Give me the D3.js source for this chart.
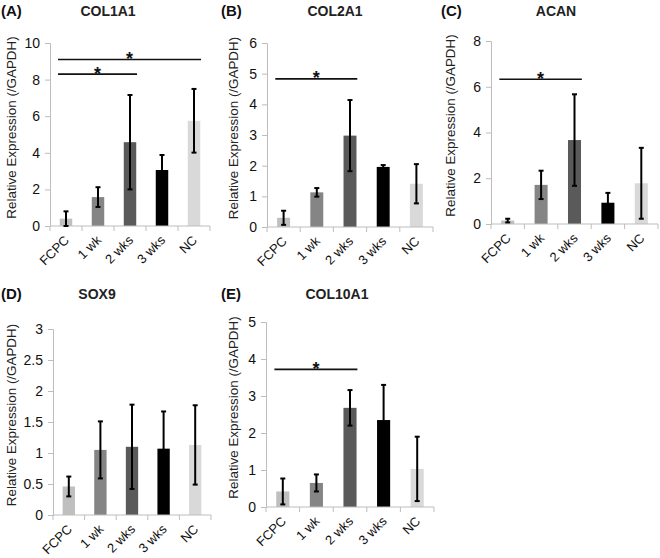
<!DOCTYPE html>
<html><head><meta charset="utf-8">
<script src="https://cdnjs.cloudflare.com/ajax/libs/d3/7.8.5/d3.min.js"></script>
<style>body{margin:0;background:#fff;} svg{display:block;font-family:"Liberation Sans",Arial,sans-serif;}</style>
</head><body><svg id="c" width="660" height="558"></svg>
<script>
const categories = ["FCPC", "1 wk", "2 wks", "3 wks", "NC"];
const barColors = ["#bfbfbf", "#858585", "#5a5a5a", "#000000", "#d9d9d9"];

const col1a1Mean = [0.40, 1.58, 4.58, 3.06, 5.75];
const col1a1Err  = [0.40, 0.54, 2.58, 0.82, 1.74];
const col1a1Ticks = [0, 2, 4, 6, 8, 10];
const col1a1Sig = [{from: 0, to: 4, y: 9.1}, {from: 0, to: 2, y: 8.3}];

const col2a1Mean = [0.30, 1.13, 2.98, 1.96, 1.41];
const col2a1Err  = [0.23, 0.14, 1.16, 0.06, 0.64];
const col2a1Ticks = [0, 1, 2, 3, 4, 5, 6];
const col2a1Sig = [{from: 0, to: 2, y: 4.83}];

const acanMean = [0.15, 1.71, 3.67, 0.93, 1.78];
const acanErr  = [0.08, 0.62, 2.00, 0.43, 1.55];
const acanTicks = [0, 2, 4, 6, 8];
const acanSig = [{from: 0, to: 2, y: 6.33}];

const sox9Mean = [0.46, 1.05, 1.10, 1.07, 1.13];
const sox9Err  = [0.16, 0.46, 0.68, 0.60, 0.64];
const sox9Ticks = [0, 0.5, 1, 1.5, 2, 2.5, 3];
const sox9Sig = [];

const col10a1Mean = [0.42, 0.65, 2.68, 2.35, 1.03];
const col10a1Err  = [0.35, 0.23, 0.48, 0.95, 0.87];
const col10a1Ticks = [0, 1, 2, 3, 4, 5];
const col10a1Sig = [{from: 0, to: 2, y: 3.72}];

const svg = d3.select("#c");

function panel(o) {
  const g = svg.append("g");
  const x = d3.scaleBand().domain(categories).range([o.left, o.right]).paddingInner(0.61).paddingOuter(0.305);
  const xb = d3.scaleBand().domain(categories).range([o.left, o.right]);
  const yMax = o.ticks[o.ticks.length - 1];
  const y = d3.scaleLinear().domain([0, yMax]).range([o.bottom, o.top]);

  // panel letter + title
  g.append("text").attr("x", o.lx).attr("y", o.ty).attr("font-size", 15).attr("font-weight", "bold").attr("fill", "#111").text(o.letter);
  g.append("text").attr("x", o.tx).attr("y", o.ty).attr("text-anchor", "middle").attr("font-size", 14).attr("font-weight", "bold").attr("fill", "#222").text(o.title);

  // y axis
  const ya = g.append("g").attr("transform", `translate(${o.left},0)`)
    .call(d3.axisLeft(y).tickValues(o.ticks).tickFormat(d => String(d)).tickSizeOuter(0).tickSize(5).tickPadding(5));
  ya.select(".domain").attr("stroke", "#bdbdbd").attr("stroke-width", 1);
  ya.selectAll(".tick line").attr("stroke", "#bdbdbd");
  ya.selectAll(".tick text").attr("font-size", 14).attr("fill", "#111").attr("font-family", "Liberation Sans, Arial, sans-serif");

  // y title
  g.append("text").attr("transform", `translate(${o.yx},${(o.top + o.bottom) / 2 - 7}) rotate(-90)`)
    .attr("text-anchor", "middle").attr("font-size", 13.4).attr("fill", "#222").text("Relative Expression (/GAPDH)");

  // bars
  g.selectAll("rect.bar").data(o.mean).join("rect")
    .attr("x", (d, i) => x(categories[i])).attr("width", x.bandwidth())
    .attr("y", d => y(d)).attr("height", d => y(0) - y(d))
    .attr("fill", (d, i) => barColors[i]);

  // x axis
  const xa = g.append("g").attr("transform", `translate(0,${o.bottom})`);
  xa.append("line").attr("x1", o.left).attr("x2", o.right).attr("stroke", "#bdbdbd");
  const bounds = categories.map(c => xb(c)).concat([o.right]);
  xa.selectAll("line.tk").data(bounds).join("line").attr("class", "tk")
    .attr("x1", d => d).attr("x2", d => d).attr("y1", 0).attr("y2", 5).attr("stroke", "#bdbdbd");
  xa.selectAll("text").data(categories).join("text")
    .attr("transform", c => `translate(${x(c) + x.bandwidth() / 2 + 4},${15}) rotate(-45)`)
    .attr("text-anchor", "end").attr("font-size", 13).attr("fill", "#111").text(c => c);

  // error bars
  const eg = g.append("g").attr("stroke", "#000").attr("stroke-width", 2);
  o.mean.forEach((m, i) => {
    const cx = x(categories[i]) + x.bandwidth() / 2;
    const lo = Math.max(0, m - o.err[i]), hi = m + o.err[i];
    eg.append("line").attr("x1", cx).attr("x2", cx).attr("y1", y(lo)).attr("y2", y(hi));
    eg.append("line").attr("x1", cx - 2.5).attr("x2", cx + 2.5).attr("y1", y(lo)).attr("y2", y(lo));
    eg.append("line").attr("x1", cx - 2.5).attr("x2", cx + 2.5).attr("y1", y(hi)).attr("y2", y(hi));
  });

  // significance lines
  o.sig.forEach(s => {
    const bw = xb.bandwidth();
    const x1 = xb(categories[s.from]) + bw * 0.25;
    const x2 = xb(categories[s.to]) + bw * 0.72;
    g.append("line").attr("x1", x1).attr("x2", x2).attr("y1", y(s.y)).attr("y2", y(s.y)).attr("stroke", "#111").attr("stroke-width", 1.6);
    g.append("text").attr("x", (x1 + x2) / 2).attr("y", y(s.y) + 5.5).attr("text-anchor", "middle").attr("font-size", 18).attr("font-weight", "bold").attr("fill", "#111").text("*");
  });
}

panel({letter: "(A)", title: "COL1A1", lx: 1, tx: 108, ty: 16, left: 50, right: 210, top: 43, bottom: 226, yx: 16, ticks: col1a1Ticks, mean: col1a1Mean, err: col1a1Err, sig: col1a1Sig});
panel({letter: "(B)", title: "COL2A1", lx: 221, tx: 335, ty: 16, left: 267, right: 433, top: 43, bottom: 227, yx: 238, ticks: col2a1Ticks, mean: col2a1Mean, err: col2a1Err, sig: col2a1Sig});
panel({letter: "(C)", title: "ACAN", lx: 441, tx: 556, ty: 16, left: 491, right: 658, top: 41, bottom: 224, yx: 455, ticks: acanTicks, mean: acanMean, err: acanErr, sig: acanSig});
panel({letter: "(D)", title: "SOX9", lx: 1, tx: 97, ty: 299, left: 53, right: 211, top: 329, bottom: 515, yx: 16, ticks: sox9Ticks, mean: sox9Mean, err: sox9Err, sig: sox9Sig});
panel({letter: "(E)", title: "COL10A1", lx: 221, tx: 337, ty: 299, left: 266, right: 434, top: 322, bottom: 507, yx: 238, ticks: col10a1Ticks, mean: col10a1Mean, err: col10a1Err, sig: col10a1Sig});
</script></body></html>
